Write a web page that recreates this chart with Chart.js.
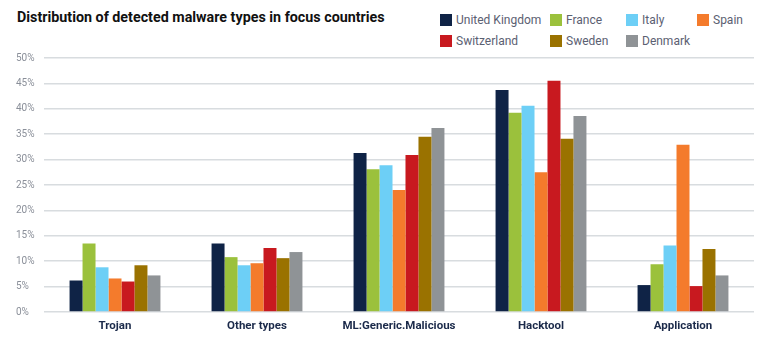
<!DOCTYPE html>
<html>
<head>
<meta charset="utf-8">
<script src="https://cdn.jsdelivr.net/npm/chart.js@4.4.1/dist/chart.umd.min.js"></script>
<style>
  html, body { margin: 0; padding: 0; background: #fff; }
  #wrap { position: relative; width: 762px; height: 337px; overflow: hidden; font-family: Roboto, sans-serif; }
  #title { position: absolute; left: 17px; top: 9px; font-size: 14.3px; font-weight: 700; color: #111; white-space: nowrap; }
  .leg { position: absolute; display: flex; align-items: center; font-size: 12px; color: #5b6072; white-space: nowrap; }
  .leg span.sw { width: 12px; height: 12px; margin-right: 4px; display: inline-block; }
  canvas { position: absolute; left: 0; top: 0; }
</style>
</head>
<body>
<div id="wrap">
  <div id="title">Distribution of detected malware types in focus countries</div>
  <div id="legend"></div>
  <canvas id="chart-canvas" width="762" height="337"></canvas>
</div>
<script>
// categories and series (percent)
const categories = ['Trojan', 'Other types', 'ML:Generic.Malicious', 'Hacktool', 'Application'];
const countries = ['United Kingdom', 'France', 'Italy', 'Spain', 'Switzerland', 'Sweden', 'Denmark'];
const colors = ['#0f2346', '#9bc13c', '#6dcff6', '#f47b2c', '#c8191f', '#9a7200', '#8f9396'];

const ukValues = [6.2, 13.5, 31.3, 43.7, 5.3];
const franceValues = [13.5, 10.8, 28.1, 39.2, 9.4];
const italyValues = [8.8, 9.2, 28.9, 40.6, 13.1];
const spainValues = [6.6, 9.6, 24.0, 27.5, 32.9];
const switzerlandValues = [6.0, 12.6, 30.9, 45.5, 5.1];
const swedenValues = [9.2, 10.6, 34.5, 34.1, 12.4];
const denmarkValues = [7.2, 11.8, 36.2, 38.6, 7.2];

const seriesValues = [ukValues, franceValues, italyValues, spainValues, switzerlandValues, swedenValues, denmarkValues];

// legend positions (two rows of four columns)
const legendCols = [440, 550, 626, 697];
const legendRows = [13, 34];

const legendEl = document.getElementById('legend');
countries.forEach((name, i) => {
    const d = document.createElement('div');
    d.className = 'leg';
    d.style.left = legendCols[i % 4] + 'px';
    d.style.top = legendRows[Math.floor(i / 4)] + 'px';
    d.innerHTML = `<span class="sw" style="background:${colors[i]}"></span>${name}`;
    legendEl.appendChild(d);
});

const ctx = document.getElementById('chart-canvas').getContext('2d');

new Chart(ctx, {
    type: 'bar',
    data: {
        labels: categories,
        datasets: countries.map((name, i) => ({
            label: name,
            data: seriesValues[i],
            backgroundColor: colors[i],
            borderWidth: 0,
            categoryPercentage: 0.64,
            barPercentage: 1.0
        }))
    },
    options: {
        responsive: false,
        animation: false,
        layout: { padding: { left: 16, right: 8, top: 58, bottom: 0 } },
        plugins: {
            legend: { display: false },
            title: { display: false },
            tooltip: { enabled: false }
        },
        scales: {
            x: {
                grid: { display: false },
                border: { display: false },
                ticks: {
                    padding: -1,
                    color: '#1b2a4a',
                    font: { family: 'Roboto', size: 11.5, weight: 'bold' },
                    maxRotation: 0
                },
                afterFit: (scale) => { scale.height = 25; }
            },
            y: {
                min: 0,
                max: 50,
                grid: { color: '#d8dcdf', lineWidth: 1.5, drawTicks: false },
                border: { display: false },
                ticks: {
                    stepSize: 5,
                    crossAlign: 'far',
                    color: '#8a8f99',
                    font: { family: 'Roboto', size: 10 },
                    callback: (v) => v + '%'
                },
                afterFit: (scale) => { scale.width = 28; }
            }
        }
    }
});
</script>
</body>
</html>
